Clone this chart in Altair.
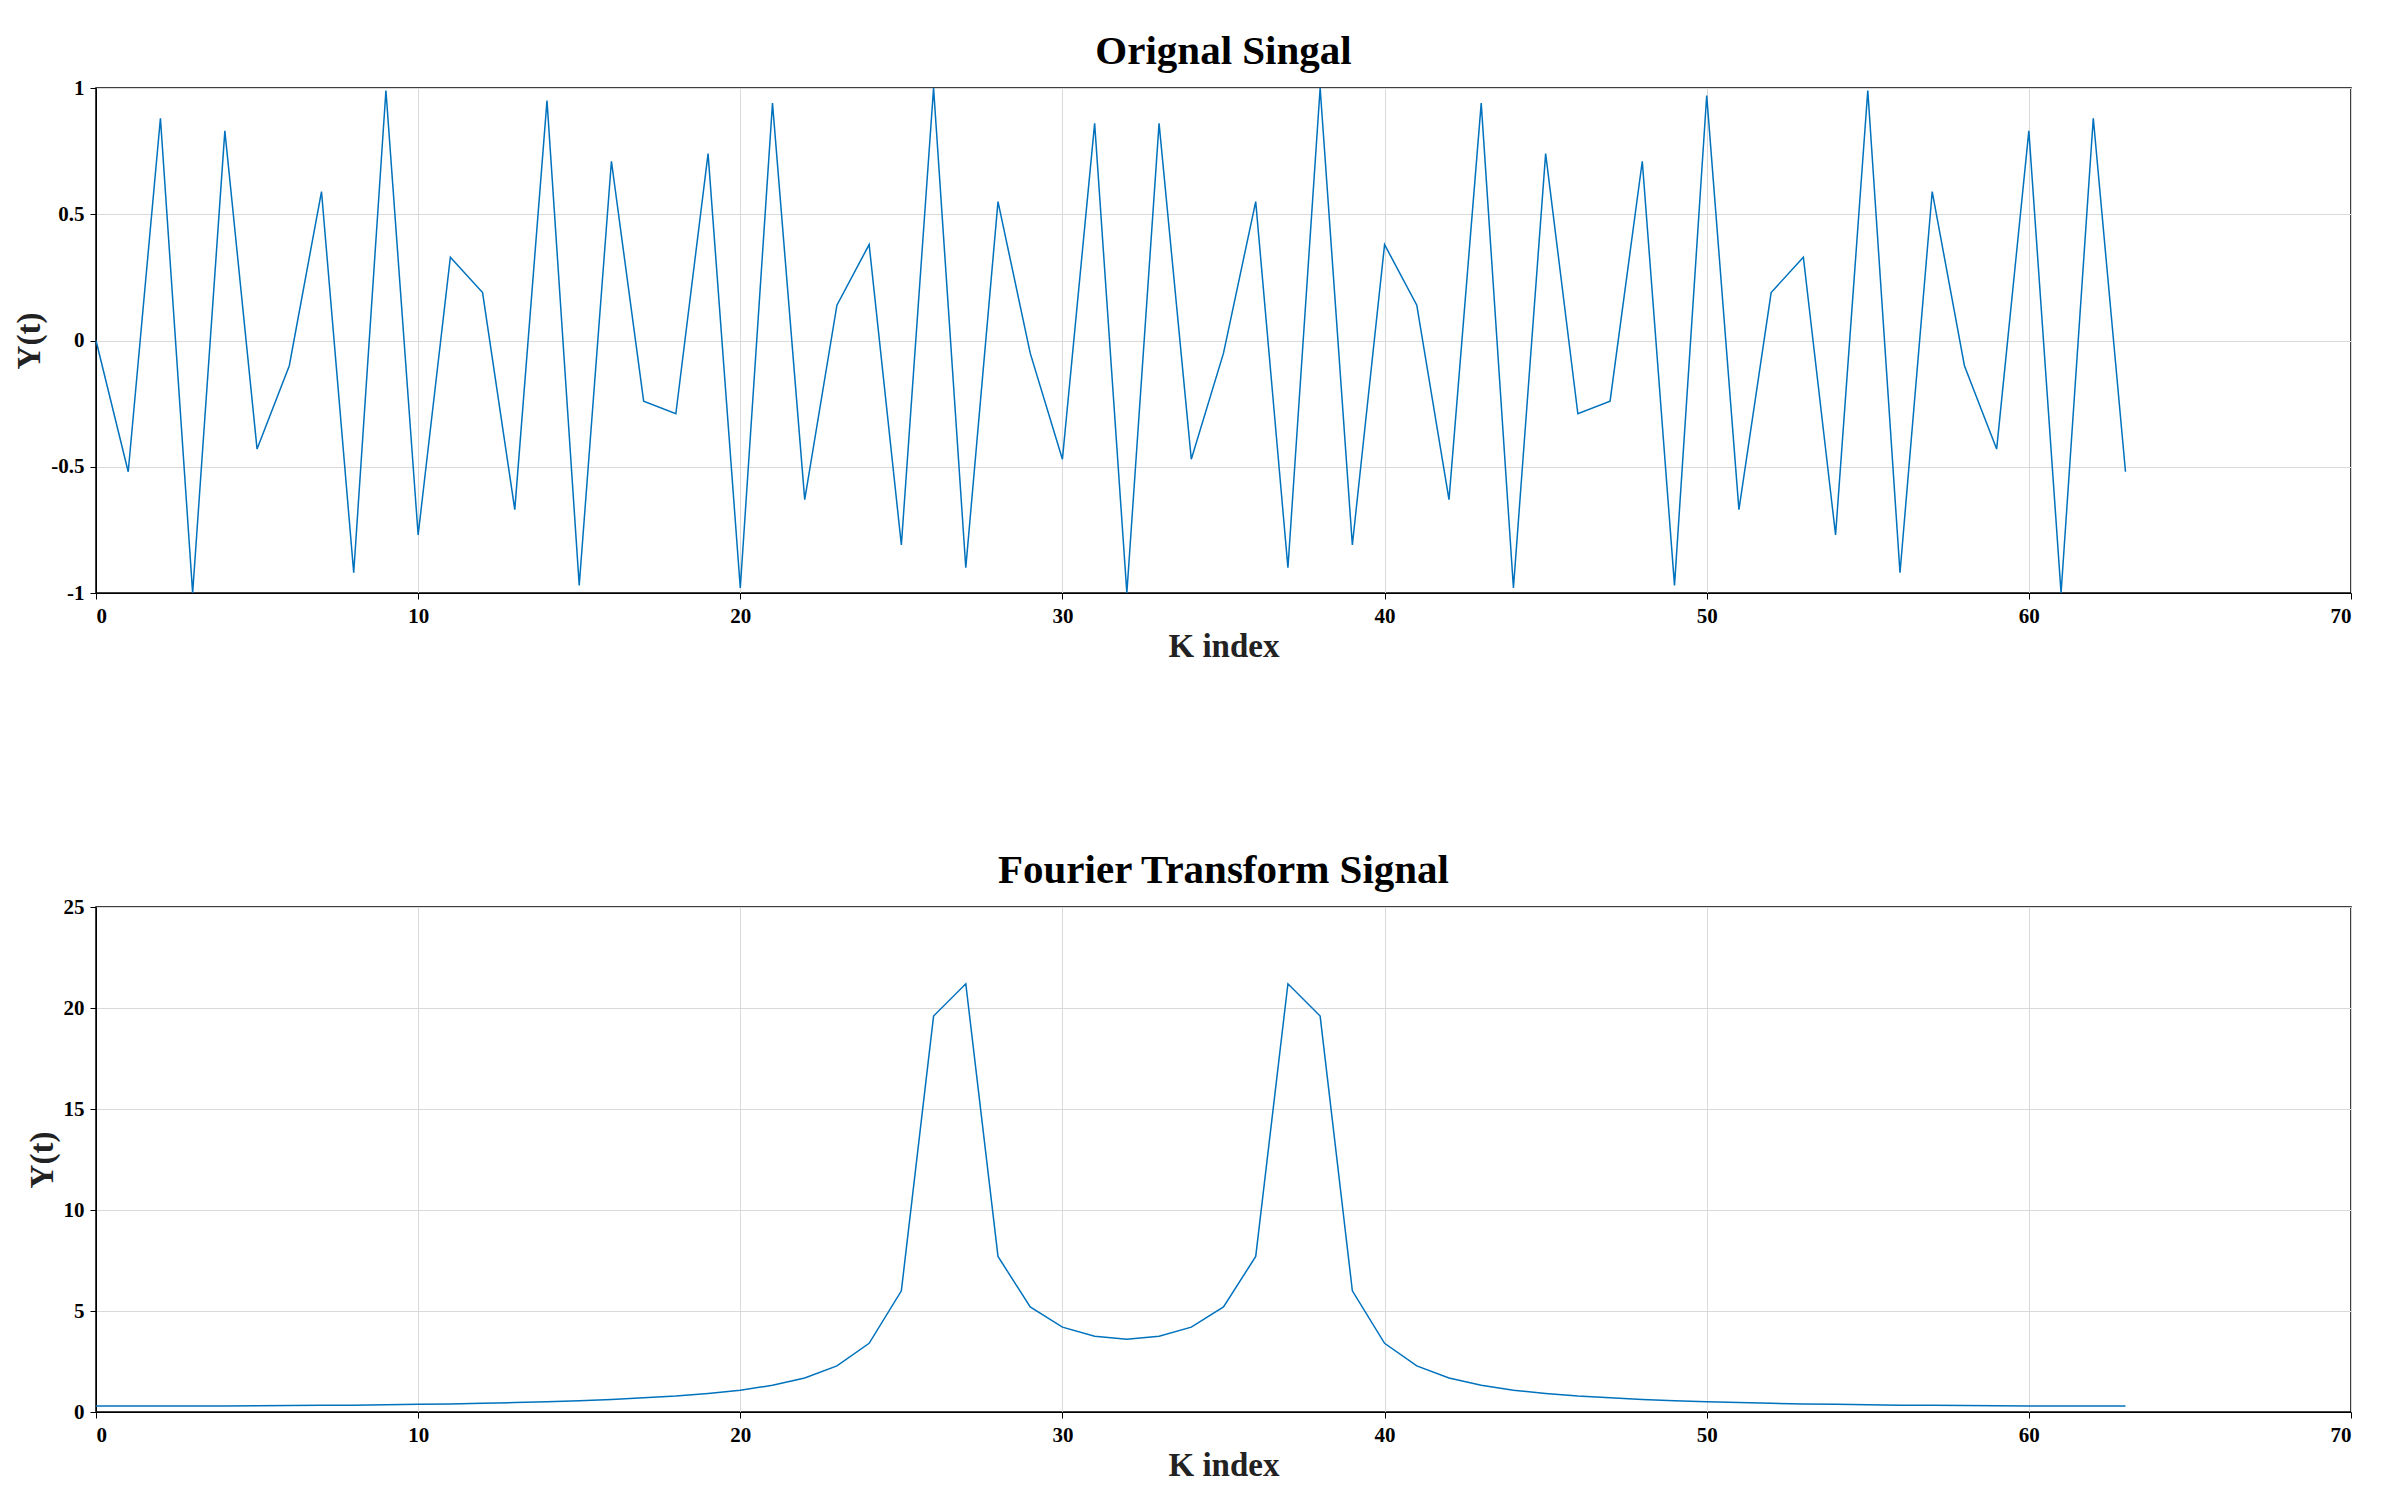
import altair as alt
import pandas as pd

k = list(range(64))
signal = [0, -0.52, 0.88, -1.0, 0.83, -0.43, -0.1, 0.59, -0.92, 0.99,
          -0.77, 0.33, 0.19, -0.67, 0.95, -0.97, 0.71, -0.24, -0.29, 0.74,
          -0.98, 0.94, -0.63, 0.14, 0.38, -0.81, 1.0, -0.9, 0.55, -0.05,
          -0.47, 0.86, -1.0, 0.86, -0.47, -0.05, 0.55, -0.9, 1.0, -0.81,
          0.38, 0.14, -0.63, 0.94, -0.98, 0.74, -0.29, -0.24, 0.71, -0.97,
          0.97, -0.67, 0.19, 0.33, -0.77, 0.99, -0.92, 0.59, -0.1, -0.43,
          0.83, -1.0, 0.88, -0.52]
spectrum = [0.3, 0.3, 0.3, 0.3, 0.3, 0.31, 0.32, 0.33, 0.34, 0.36,
            0.38, 0.4, 0.43, 0.47, 0.51, 0.56, 0.62, 0.7, 0.79, 0.92,
            1.08, 1.32, 1.68, 2.28, 3.4, 6.0, 19.6, 21.2, 7.7, 5.2,
            4.2, 3.75, 3.6, 3.75, 4.2, 5.2, 7.7, 21.2, 19.6, 6.0,
            3.4, 2.28, 1.68, 1.32, 1.08, 0.92, 0.79, 0.7, 0.62, 0.56,
            0.51, 0.47, 0.43, 0.4, 0.38, 0.36, 0.34, 0.33, 0.32, 0.31,
            0.3, 0.3, 0.3, 0.3]

df = pd.DataFrame({"k": k, "s": signal, "f": spectrum})
FONT = "Liberation Serif"
W, H = 2255, 505

def axis(vals, expr=None):
    kw = dict(values=vals, labelFont=FONT, labelFontWeight="bold", labelFontSize=21,
              titleFont=FONT, titleFontWeight="bold", titleFontSize=33,
              gridColor="#d9d9d9", domainColor="black", tickColor="black",
              labelColor="black", titleColor="#222", tickSize=6, labelPadding=6)
    if expr:
        kw["labelExpr"] = expr
    return alt.Axis(**kw)

xenc = alt.X("k:Q", title="K index", scale=alt.Scale(domain=[0, 70], nice=False),
             axis=axis(list(range(0, 71, 10))))

top = alt.Chart(df).mark_line(color="#0072BD", strokeWidth=1.5).encode(
    x=xenc,
    y=alt.Y("s:Q", title="Y(t)", scale=alt.Scale(domain=[-1, 1], nice=False),
            axis=axis([-1, -0.5, 0, 0.5, 1], "toString(datum.value)")),
).properties(width=W, height=H, title=alt.Title("Orignal Singal", font=FONT, fontSize=41, fontWeight="bold", color="black"))

bot = alt.Chart(df).mark_line(color="#0072BD", strokeWidth=1.5).encode(
    x=xenc,
    y=alt.Y("f:Q", title="Y(t)", scale=alt.Scale(domain=[0, 25], nice=False),
            axis=axis([0, 5, 10, 15, 20, 25])),
).properties(width=W, height=H, title=alt.Title("Fourier Transform Signal", font=FONT, fontSize=41, fontWeight="bold", color="black"))

chart = alt.vconcat(top, bot, spacing=185).properties(
    padding={"top": 22, "left": 5, "right": 5, "bottom": 5}
).configure(background="white").configure_view(stroke="black", strokeWidth=1.5)
chart.save("out.html", embed_options={"renderer": "svg", "actions": False})
